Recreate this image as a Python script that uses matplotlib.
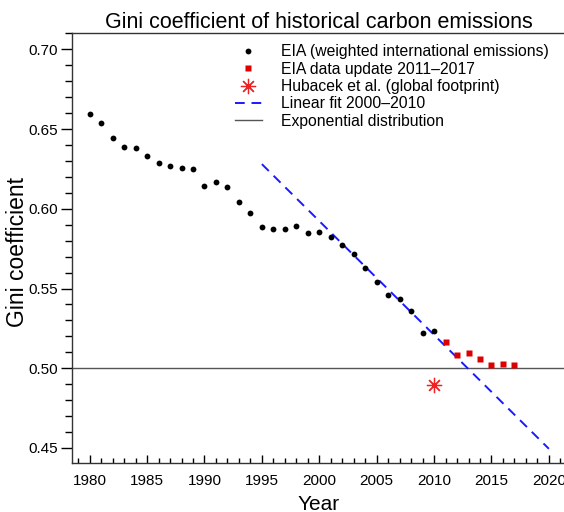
import numpy as np
import matplotlib
matplotlib.use("Agg")
import matplotlib.pyplot as plt
from matplotlib.ticker import MultipleLocator

plt.rcParams['font.family'] = ['Liberation Sans', 'DejaVu Sans']

# EIA weighted international emissions, 1980-2010
eia_years = list(range(1980, 2011))
eia_gini = [0.6595, 0.654, 0.6442, 0.6388, 0.6379, 0.6331, 0.6287, 0.6266,
            0.6258, 0.6247, 0.614, 0.617, 0.6134, 0.6044, 0.5971, 0.5885,
            0.5874, 0.5876, 0.5889, 0.5847, 0.5853, 0.582, 0.5776, 0.5719,
            0.5629, 0.5539, 0.5459, 0.5432, 0.5357, 0.5222, 0.5231]

# EIA update 2011-2017
upd_years = [2011, 2012, 2013, 2014, 2015, 2016, 2017]
upd_gini = [0.5163, 0.5084, 0.5094, 0.5059, 0.5021, 0.5025, 0.5023]

# Hubacek et al. global footprint
hub_year = [2010]
hub_gini = [0.4895]

# linear fit 2000-2010, drawn from 1995 to 2020
fit_years = [1995, 2020]
fit_gini = [0.628, 0.4495]

# exponential distribution
exp_gini = 0.5

fig = plt.figure(figsize=(5.64, 5.12), dpi=100)
ax = fig.add_axes([0.1277, 0.0951, 0.876, 0.841])

ax.axhline(exp_gini, color='#555555', lw=1.0, label='Exponential distribution', zorder=1)
ax.plot(fit_years, fit_gini, color='#1a1aff', lw=1.4, dashes=(5, 3.5),
        label='Linear fit 2000\u20132010', zorder=2)
ax.plot(eia_years, eia_gini, 'o', color='black', ms=4.2, mec='none',
        label='EIA (weighted international emissions)', zorder=3)
ax.plot(upd_years, upd_gini, 's', color='#dd0000', ms=5, mec='none',
        label='EIA data update 2011\u20132017', zorder=3)
ax.plot(hub_year, hub_gini, marker=(8, 2, 0), ls='none', color='#ee2222', ms=11,
        mew=0.9, label='Hubacek et al. (global footprint)', zorder=3)

ax.set_xlim(1978.46, 2021.5)
ax.set_ylim(0.4404, 0.7104)

ax.xaxis.set_major_locator(MultipleLocator(5))
ax.xaxis.set_minor_locator(MultipleLocator(1))
ax.yaxis.set_major_locator(MultipleLocator(0.05))
ax.yaxis.set_minor_locator(MultipleLocator(0.01))
ax.yaxis.set_major_formatter(matplotlib.ticker.FormatStrFormatter('%.2f'))

ax.tick_params(axis='x', which='major', direction='in', length=5.5, width=1, labelsize=11, pad=8)
ax.tick_params(axis='x', which='minor', direction='in', length=3.5, width=1)
ax.tick_params(axis='y', which='major', direction='out', length=8, width=1, labelsize=11, pad=2)
ax.tick_params(axis='y', which='minor', direction='out', length=5, width=1)

for s in ax.spines.values():
    s.set_color('#333333')
    s.set_linewidth(1.0)

ax.set_xlabel('Year', fontsize=15, labelpad=5)
ax.set_ylabel('Gini coefficient', fontsize=16.5)
ax.yaxis.set_label_coords(-0.087, 0.49)
ax.set_title('Gini coefficient of historical carbon emissions', fontsize=15.5, pad=3)

handles, labels = ax.get_legend_handles_labels()
order = [2, 3, 4, 1, 0]
ax.legend([handles[i] for i in order], [labels[i] for i in order],
          loc='upper left', bbox_to_anchor=(0.330, 0.973), frameon=False,
          borderpad=0, borderaxespad=0,
          fontsize=11.3, labelspacing=0.15, handlelength=1.7, handletextpad=1.2)

fig.savefig('out.png', dpi=100)
